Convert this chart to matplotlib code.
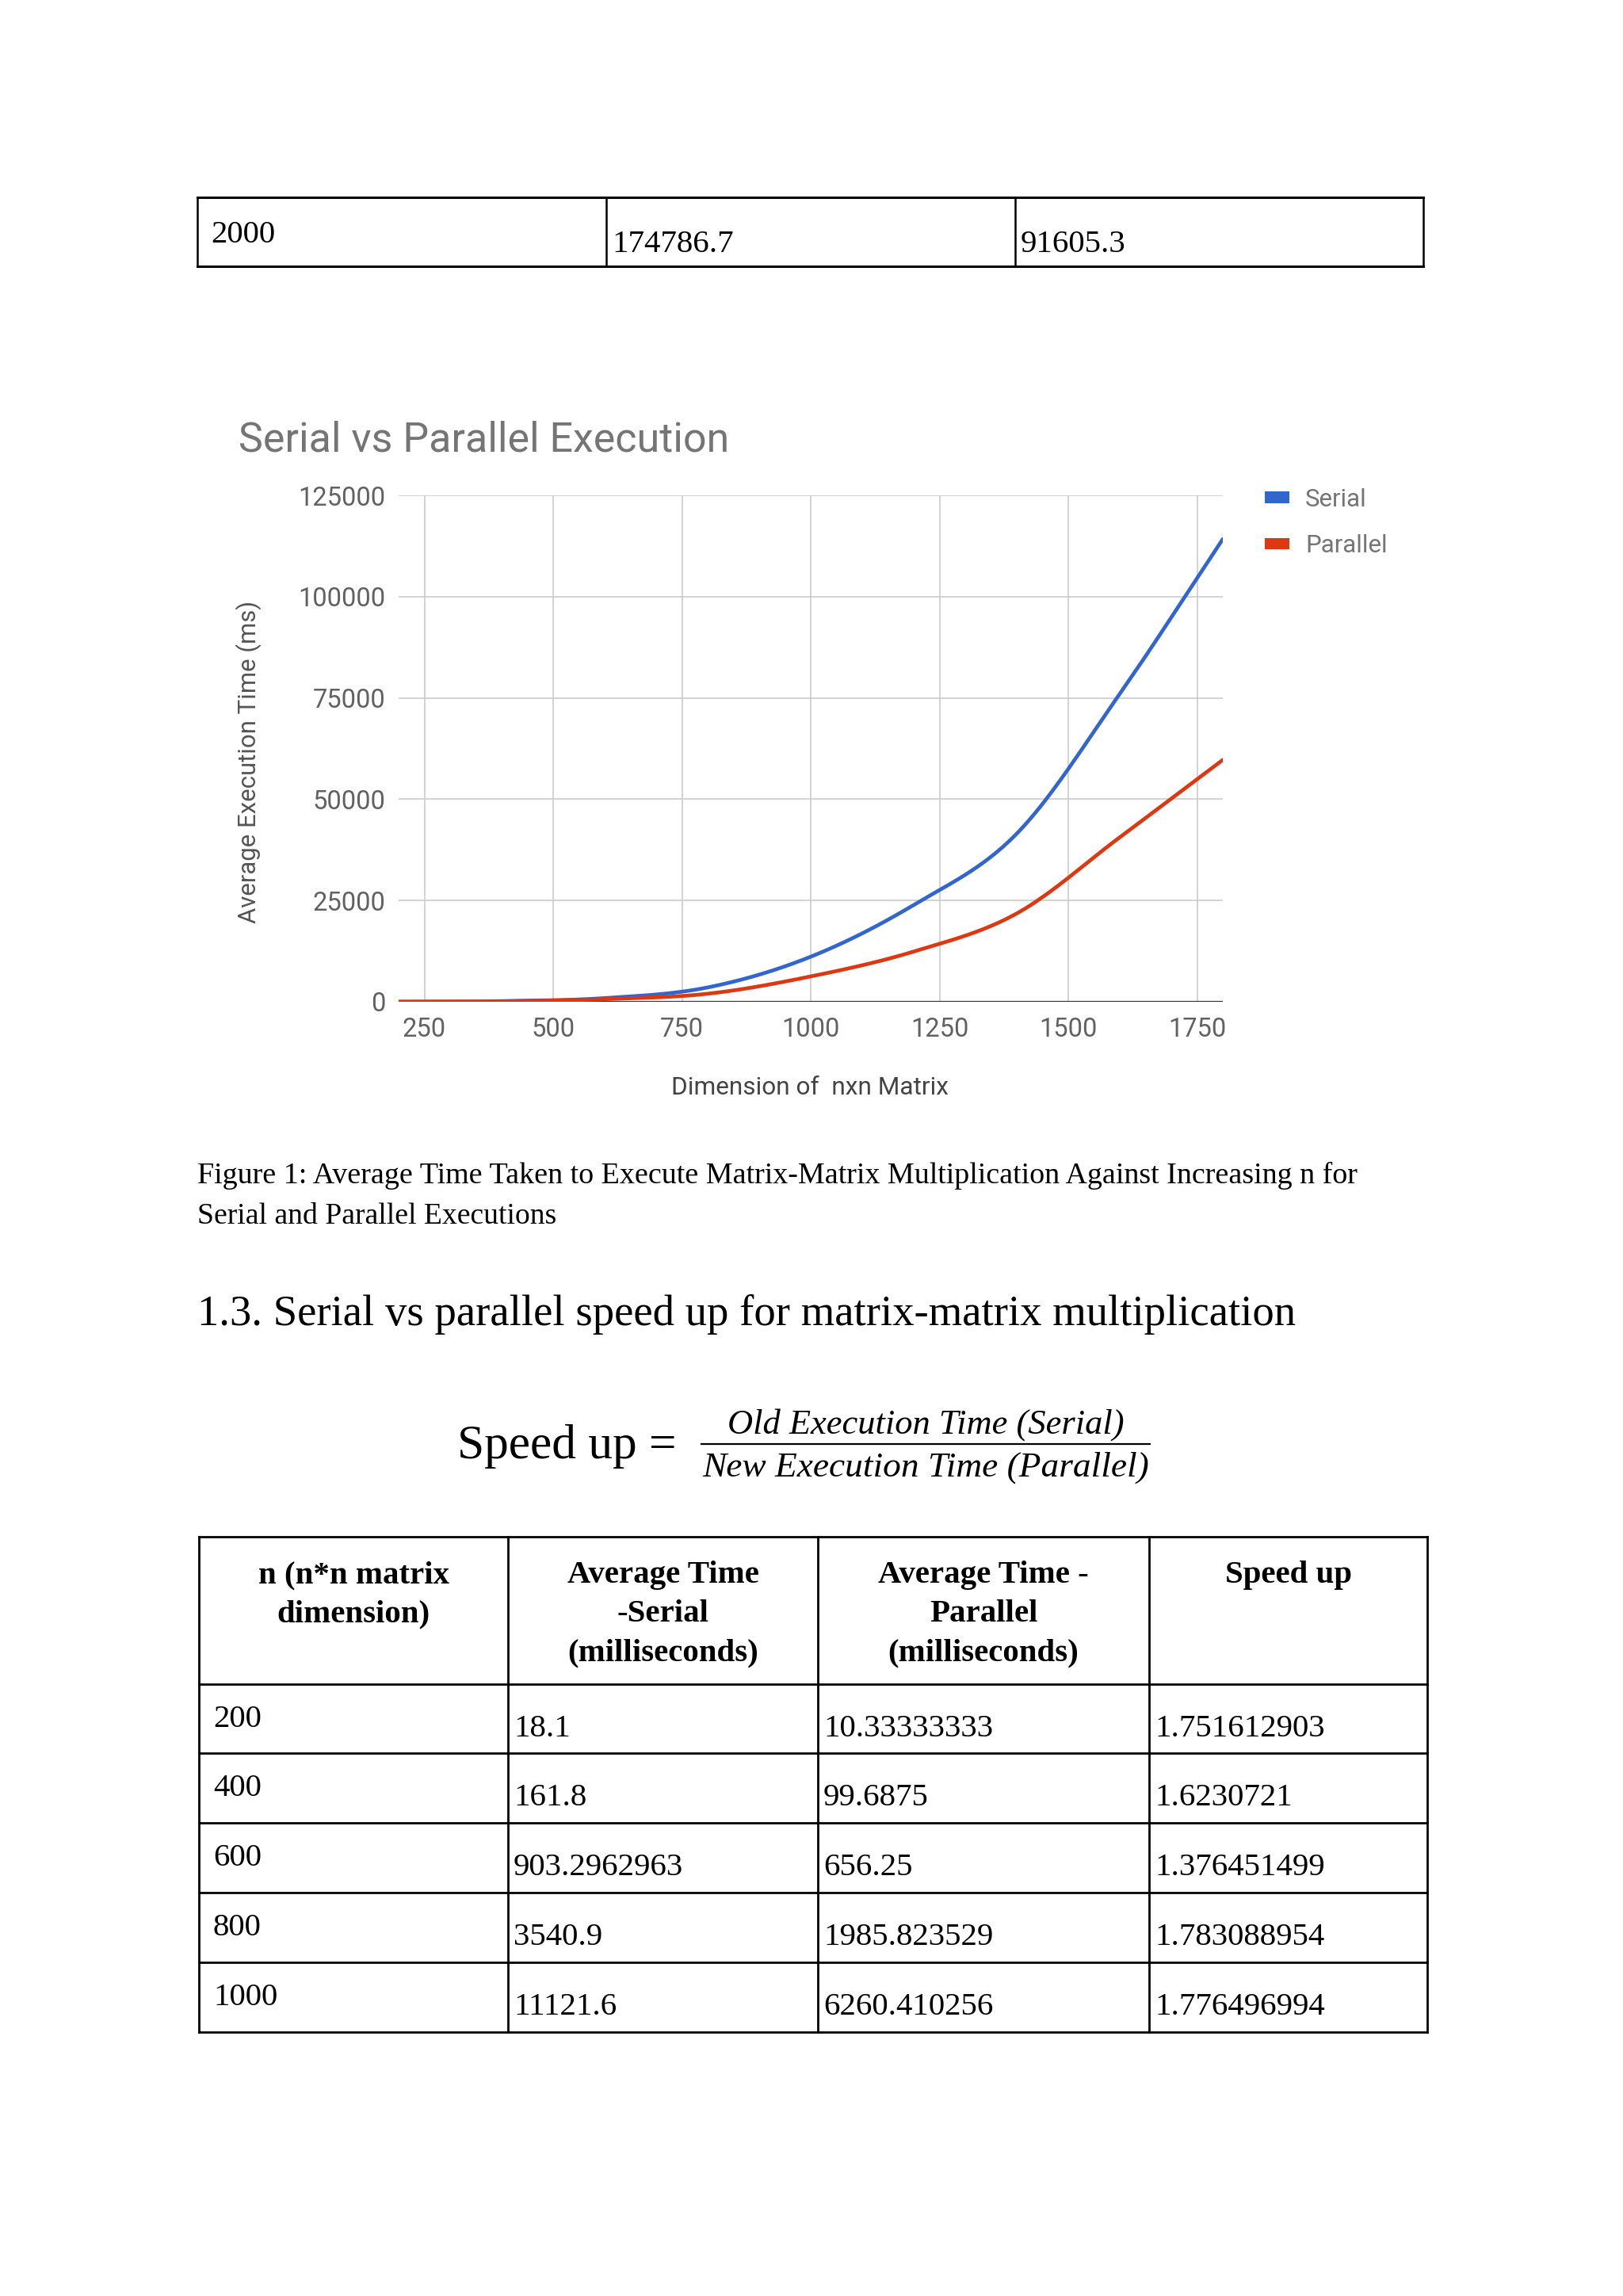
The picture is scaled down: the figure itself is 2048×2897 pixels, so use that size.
import numpy as np
import matplotlib
matplotlib.use("Agg")
import matplotlib.pyplot as plt
from matplotlib.lines import Line2D
from matplotlib.patches import Patch

# ---------------- data ----------------
n_vals = [200, 400, 600, 800, 1000, 1200, 1400, 1600, 1800]
serial_ms = [18.1, 161.8, 903.3, 3540.9, 11121.6, 23900, 41500, 76000, 114200]
parallel_ms = [10.3, 99.7, 656.3, 1985.8, 6260.4, 12400, 21800, 40600, 59700]

x_ticks = [250, 500, 750, 1000, 1250, 1500, 1750]
y_ticks = [0, 25000, 50000, 75000, 100000, 125000]

top_row = ["2000", "174786.7", "91605.3"]
head_cells = [["n (n*n matrix", "dimension)"],
              ["Average Time", "-Serial", "(milliseconds)"],
              ["Average Time -", "Parallel", "(milliseconds)"],
              ["Speed up"]]
tbl_n = ["200", "400", "600", "800", "1000"]
tbl_serial = ["18.1", "161.8", "903.2962963", "3540.9", "11121.6"]
tbl_parallel = ["10.33333333", "99.6875", "656.25", "1985.823529", "6260.410256"]
tbl_speed = ["1.751612903", "1.6230721", "1.376451499", "1.783088954", "1.776496994"]

W, H = 2048, 2897
fig = plt.figure(figsize=(W / 100, H / 100), dpi=100)
fig.patch.set_facecolor("white")
renderer = fig.canvas.get_renderer()

SERIF = ["Liberation Serif", "DejaVu Serif"]
SANS = ["Roboto", "DejaVu Sans"]


def put(x, y, s, width=None, size=20, ha="left", va="center", rotation=0, **kw):
    t = fig.text(x / W, 1 - y / H, s, ha=ha, va=va, fontsize=size, **kw)
    if width:
        bb = t.get_window_extent(renderer)
        t.set_fontsize(t.get_fontsize() * width / bb.width)
    if rotation:
        t.set_rotation(rotation)
    return t


def hline(x0, x1, y, lw=1.8, color="black"):
    fig.add_artist(Line2D([x0 / W, x1 / W], [1 - y / H, 1 - y / H],
                          transform=fig.transFigure, lw=lw, color=color,
                          solid_capstyle="projecting"))


def vline(x, y0, y1, lw=1.8, color="black"):
    fig.add_artist(Line2D([x / W, x / W], [1 - y0 / H, 1 - y1 / H],
                          transform=fig.transFigure, lw=lw, color=color,
                          solid_capstyle="projecting"))


TS = 29.4  # table font size (pt)
DY = 5     # vertical text offset

# ---------------- top table fragment ----------------
tx = [249, 765, 1281, 1796]
hline(tx[0], tx[-1], 249, lw=2.2)
hline(tx[0], tx[-1], 336, lw=2.2)
for xv in tx:
    vline(xv, 249, 336)
put(266, 292 + DY, top_row[0], size=TS, family=SERIF)
put(772, 304 + DY, top_row[1], size=TS, family=SERIF)
put(1288, 304 + DY, top_row[2], size=TS, family=SERIF)

# ---------------- chart ----------------
ax = fig.add_axes([503 / W, 1 - 1264 / H, (1543 - 503) / W, (1264 - 625) / H])
ax.set_xlim(200, 1800)
ax.set_ylim(0, 125000)


def smooth(xs, ys, k=40):
    xs = np.asarray(xs, float)
    ys = np.asarray(ys, float)
    m = np.gradient(ys, xs)
    ox, oy = [], []
    for i in range(len(xs) - 1):
        h = xs[i + 1] - xs[i]
        t = np.linspace(0, 1, k, endpoint=False)
        h00 = 2 * t**3 - 3 * t**2 + 1
        h10 = t**3 - 2 * t**2 + t
        h01 = -2 * t**3 + 3 * t**2
        h11 = t**3 - t**2
        ox.append(xs[i] + t * h)
        oy.append(h00 * ys[i] + h10 * h * m[i] + h01 * ys[i + 1] + h11 * h * m[i + 1])
    ox.append([xs[-1]])
    oy.append([ys[-1]])
    return np.concatenate(ox), np.concatenate(oy)


for xv in x_ticks:
    ax.axvline(xv, color="#cccccc", lw=1.2, zorder=0)
for yv in y_ticks[1:]:
    ax.axhline(yv, color="#cccccc", lw=1.2, zorder=0)
ax.axhline(0, color="#333333", lw=1.6, zorder=3)

sx, sy = smooth(n_vals, serial_ms)
px, py = smooth(n_vals, parallel_ms)
ax.plot(sx, sy, color="#3366cc", lw=3.4, zorder=4, solid_capstyle="round")
ax.plot(px, py, color="#dc3912", lw=3.4, zorder=4, solid_capstyle="round")

for s in ax.spines.values():
    s.set_visible(False)
ax.set_xticks(x_ticks)
ax.set_yticks(y_ticks)
ax.set_xticklabels([str(v) for v in x_ticks], family=SANS)
ax.set_yticklabels([str(v) for v in y_ticks], family=SANS)
ax.tick_params(axis="both", length=0, labelsize=23.5, colors="#616161")
ax.tick_params(axis="x", pad=14)
ax.tick_params(axis="y", pad=12)

put(301, 555, "Serial vs Parallel Execution", width=619, color="#757575", family=SANS)
put(1022, 1373, "Dimension of  nxn Matrix", width=349, ha="center", color="#444444", family=SANS)
yl = put(314, 961, "Average Execution Time (ms)", width=407, ha="center", color="#555555", family=SANS)
yl.set_rotation(90)

handles = [Patch(facecolor="#3366cc", edgecolor="none"),
           Patch(facecolor="#dc3912", edgecolor="none")]
fig.legend(handles, ["Serial", "Parallel"], loc="upper left",
           bbox_to_anchor=(1580 / W, 1 - 600 / H), frameon=False,
           prop={"family": SANS, "size": 22.5}, labelcolor="#757575",
           handlelength=1.0, handleheight=0.35, handletextpad=0.65,
           labelspacing=0.95, borderpad=0)

# ---------------- captions / heading ----------------
put(249, 1478 + DY, "Figure 1: Average Time Taken to Execute Matrix-Matrix Multiplication Against Increasing n for",
    width=1465, family=SERIF)
put(249, 1530 + DY, "Serial and Parallel Executions", width=453, family=SERIF)
put(249, 1654 + DY, "1.3. Serial vs parallel speed up for matrix-matrix multiplication",
    width=1390, family=SERIF)

# formula
put(577, 1820 + DY, "Speed up =", width=277, family=SERIF)
put(1168, 1793 + DY, "Old Execution Time (Serial)", width=501, ha="center", family=SERIF, style="italic")
put(1168, 1847 + DY, "New Execution Time (Parallel)", width=564, ha="center", family=SERIF, style="italic")
hline(885, 1451, 1822, lw=1.6)

# ---------------- bottom table ----------------
cx = [251, 641, 1032, 1450, 1801]
ry = [1939, 2125, 2212, 2300, 2388, 2476, 2564]
for yv in ry:
    hline(cx[0], cx[-1], yv, lw=2.0)
for xv in cx:
    vline(xv, ry[0], ry[-1], lw=2.0)

line_y = [1983 + DY, 2032 + DY, 2081 + DY]
for ci, lines in enumerate(head_cells):
    cxm = (cx[ci] + cx[ci + 1]) / 2
    for li, s in enumerate(lines):
        put(cxm, line_y[li], s, size=TS, ha="center", family=SERIF, weight="bold")

for ri in range(5):
    top = ry[ri + 1]
    bot = ry[ri + 2]
    mid = (top + bot) / 2
    put(cx[0] + 18, mid - 4 + DY, tbl_n[ri], size=TS, family=SERIF)
    put(cx[1] + 7, mid + 8 + DY, tbl_serial[ri], size=TS, family=SERIF)
    put(cx[2] + 7, mid + 8 + DY, tbl_parallel[ri], size=TS, family=SERIF)
    put(cx[3] + 7, mid + 8 + DY, tbl_speed[ri], size=TS, family=SERIF)

fig.savefig("out.png", dpi=100, facecolor="white")
